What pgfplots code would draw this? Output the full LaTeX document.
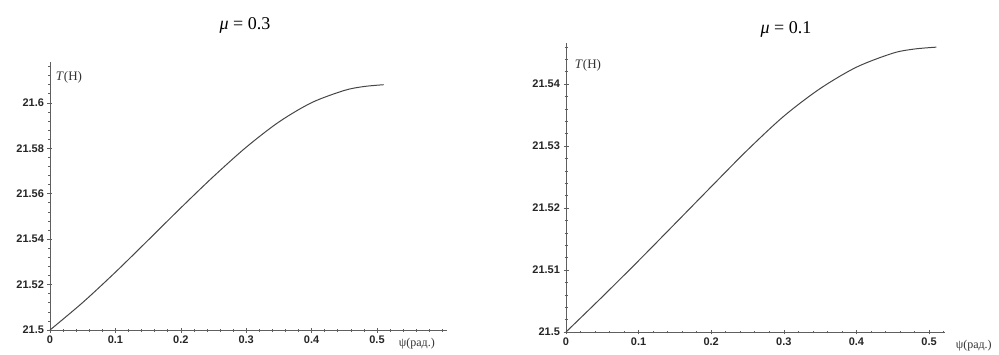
\documentclass[border=0pt]{standalone}
\usepackage{fontspec}
\setmainfont{Liberation Serif}
\setsansfont{Liberation Sans}
\usepackage{pgfplots}
\pgfplotsset{compat=1.18}

% T(psi) for friction coefficient mu = 0.3
\pgfplotstableread{
psi    T
0.00  21.50000
0.05  21.51210
0.10  21.52545
0.15  21.53955
0.20  21.55378
0.25  21.56760
0.30  21.58048
0.35  21.59160
0.40  21.60010
0.45  21.60548
0.48  21.60720
0.51  21.60800
}\tmuthree

% T(psi) for friction coefficient mu = 0.1
\pgfplotstableread{
psi    T
0.00  21.50000
0.05  21.50568
0.10  21.51150
0.15  21.51745
0.20  21.52343
0.25  21.52935
0.30  21.53480
0.35  21.53925
0.40  21.54270
0.45  21.54495
0.48  21.54563
0.51  21.54593
}\tmuone

\definecolor{axisgray}{RGB}{95,95,95}
\definecolor{curvegray}{RGB}{70,70,70}

\pgfplotsset{
  mapleaxis/.style={
    scale only axis,
    axis lines=left,
    axis line style={-, axisgray, line width=0.8pt},
    every tick/.style={axisgray, line width=0.6pt},
    tick align=center,
    major tick length=5pt,
    minor tick length=3pt,
    clip=false,
    ticklabel style={font=\sffamily\bfseries\fontsize{11}{12}\selectfont, text=black!85},
    /pgf/number format/assume math mode=true,
    yticklabel style={/pgf/number format/.cd, fixed, precision=2},
    xticklabel style={/pgf/number format/.cd, fixed, precision=1},
  },
}

\begin{document}
\begin{tikzpicture}
\path[use as bounding box] (0,0) rectangle (999pt,354pt);

% left panel, mu = 0.3
\begin{axis}[mapleaxis,
  at={(50pt,24pt)}, anchor=south west,
  width=397pt, height=268pt,
  xmin=0, xmax=0.607, ymin=21.5, ymax=21.618,
  xtick={0,0.1,0.2,0.3,0.4,0.5},
  minor xtick={0.02,0.04,...,0.6},
  ytick={21.5,21.52,21.54,21.56,21.58,21.6},
  minor ytick={21.504,21.508,...,21.616},
]
\addplot[curvegray, line width=1pt, smooth] table[x=psi, y=T] {\tmuthree};
\node[anchor=west, font=\fontsize{12}{13}\selectfont, text=black!80]
  at (axis cs:0.528,21.5) [yshift=-14pt] {ψ(рад.)};
\end{axis}

% right panel, mu = 0.1
\begin{axis}[mapleaxis,
  at={(566pt,22pt)}, anchor=south west,
  width=379pt, height=289pt,
  xmin=0, xmax=0.522, ymin=21.5, ymax=21.5466,
  xtick={0,0.1,0.2,0.3,0.4,0.5},
  minor xtick={0.02,0.04,...,0.52},
  ytick={21.5,21.51,21.52,21.53,21.54},
  minor ytick={21.502,21.504,...,21.546},
]
\addplot[curvegray, line width=1pt, smooth] table[x=psi, y=T] {\tmuone};
\node[anchor=west, font=\fontsize{12}{13}\selectfont, text=black!80]
  at (axis cs:0.532,21.5) [yshift=-14pt] {ψ(рад.)};
\end{axis}

% panel titles and vertical axis names
\node[font=\fontsize{18}{19}\selectfont] at (245pt,329pt) {\textit{μ} = 0.3};
\node[font=\fontsize{18}{19}\selectfont] at (786pt,325pt) {\textit{μ} = 0.1};
\node[font=\fontsize{13}{14}\selectfont, text=black!80] at (69pt,277pt) {\textit{T}(H)};
\node[font=\fontsize{13}{14}\selectfont, text=black!80] at (588pt,289pt) {\textit{T}(H)};
\end{tikzpicture}
\end{document}
